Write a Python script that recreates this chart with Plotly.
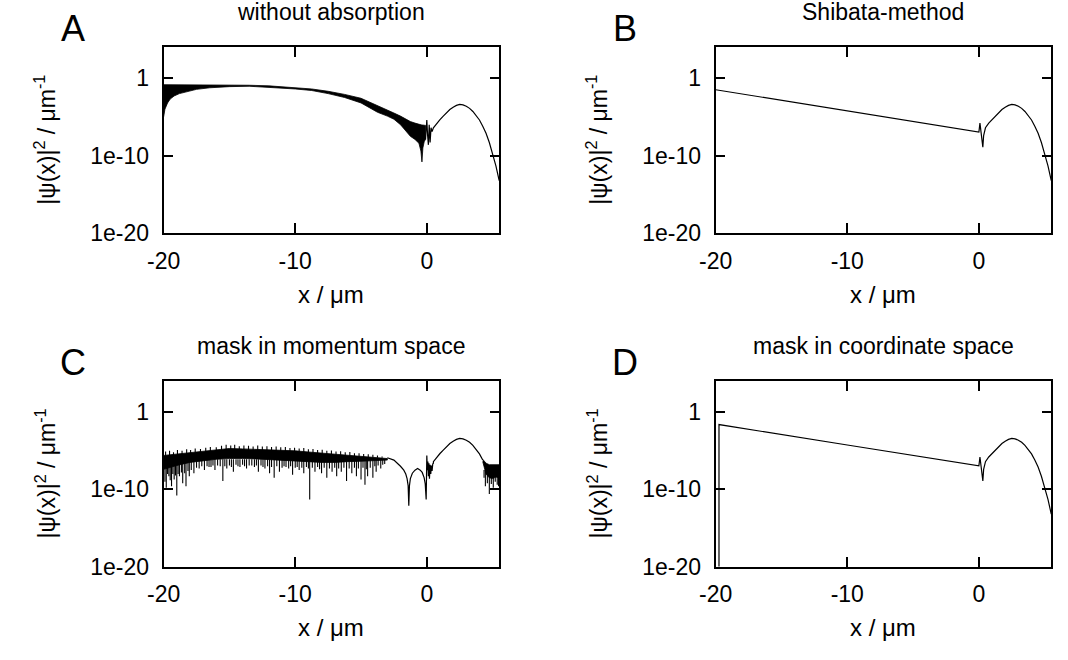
import numpy as np
import plotly.graph_objects as go

# ---------------- data (log10 of |psi|^2) ----------------
# shared smooth lobe right of the barrier (x >= 0.5)
right_x = [0.5, 0.75, 1.0, 1.25, 1.5, 1.75, 2.0, 2.25, 2.5, 2.75, 3.0, 3.25, 3.5, 3.75,
           4.0, 4.25, 4.5, 4.75, 5.0, 5.25, 5.5]
right_log = [-6.4, -5.8, -5.35, -4.9, -4.45, -4.05, -3.75, -3.52, -3.4, -3.45, -3.62, -3.9,
             -4.3, -4.8, -5.4, -6.2, -7.1, -8.3, -9.7, -11.3, -13.2]

# panel A: without absorption (dense oscillation band + spikes at 0)
a_band_x = [-20.0, -19.9, -19.7, -19.5, -19.2, -18.8, -18.2, -17.5, -16.5, -15.0, -13.5,
            -12.0, -10.0, -8.75, -7.5, -6.25, -5.0, -3.75, -3.0, -2.5, -2.0, -1.25,
            -0.9, -0.6, -0.45, -0.37, -0.3, -0.2, -0.1]
a_band_upper = [-0.85, -0.85, -0.85, -0.85, -0.85, -0.85, -0.85, -0.85, -0.85, -0.88, -0.92,
                -1.0, -1.2, -1.4, -1.7, -2.1, -2.6, -3.5, -4.1, -4.5, -4.9, -5.6,
                -5.8, -6.0, -6.0, -6.05, -6.05, -6.1, -6.1]
a_band_lower = [-5.0, -4.0, -3.2, -2.7, -2.3, -2.0, -1.7, -1.45, -1.25, -1.1, -1.05,
                -1.15, -1.4, -1.6, -2.0, -2.5, -3.2, -4.4, -4.9, -5.3, -6.0, -7.5,
                -7.9, -8.4, -9.4, -10.8, -9.0, -8.2, -7.9]
a_zero_x = [-0.1, 0.0, 0.06, 0.12, 0.18, 0.25, 0.32, 0.4, 0.5]
a_zero_log = [-7.9, -5.4, -7.4, -8.6, -6.0, -8.3, -6.4, -6.9, -6.4]

# panel B: Shibata-method
b_left_x = [-20.0, -10.0, 0.0]
b_left_log = [-1.5, -4.2, -6.95]
zero_x = [0.0, 0.08, 0.2, 0.3, 0.36, 0.42, 0.5]
zero_log = [-6.95, -5.8, -7.4, -8.9, -7.4, -6.8, -6.4]

# panel C: mask in momentum space (noisy band drawn as core band + spikes)
c_band_x = [-20.0, -19.0, -18.0, -17.0, -16.0, -15.0, -14.0, -13.0, -12.0, -11.0, -10.0,
            -9.0, -8.0, -7.0, -6.0, -5.0, -4.0, -3.0]
c_band_upper = [-5.6, -5.4, -5.25, -5.05, -4.85, -4.7, -4.75, -4.8, -4.85, -4.9, -5.0,
                -5.15, -5.3, -5.45, -5.6, -5.7, -5.85, -6.0]
c_band_lower = [-7.4, -6.9, -6.5, -6.3, -6.1, -6.0, -6.0, -6.05, -6.1, -6.2, -6.3,
                -6.4, -6.5, -6.5, -6.4, -6.35, -6.3, -6.2]
c_spike_from = -6.1
c_spike_x = [-19.9, -19.8, -19.7, -19.6, -19.5, -19.4, -19.3, -19.2, -19.1, -19.0, -18.9,
             -18.8, -18.65, -18.55, -18.4, -18.3, -18.15, -18.05, -17.9, -17.7, -17.5,
             -17.3, -17.1, -16.9, -16.7, -16.55, -16.4, -16.25, -16.1, -15.9, -15.7, -15.5,
             -15.35, -15.2, -15.0, -14.85, -14.7, -14.5, -14.35, -14.2, -14.0, -13.85,
             -13.7, -13.5, -13.3, -13.1, -12.95, -12.8, -12.6, -12.45, -12.3, -12.1, -11.95,
             -11.8, -11.6, -11.4, -11.2, -11.0, -10.85, -10.7, -10.5, -10.35, -10.2, -10.0,
             -9.85, -9.7, -9.5, -9.35, -9.15, -9.0, -8.9, -8.7, -8.5, -8.3, -8.15, -8.0,
             -7.8, -7.6, -7.4, -7.2, -7.0, -6.85, -6.7, -6.5, -6.3, -6.1, -5.9, -5.7, -5.5,
             -5.35, -5.2, -5.0, -4.85, -4.7, -4.6, -4.5, -4.3, -4.1, -3.95, -3.85, -3.7,
             -3.5, -3.35, -3.2]
c_spike_log = [-9.0, -9.8, -8.0, -8.3, -8.8, -9.6, -8.0, -8.7, -8.2, -10.8, -8.0,
               -8.3, -7.8, -9.2, -7.9, -9.6, -7.6, -8.3, -7.5, -7.9, -7.2,
               -7.3, -7.0, -7.5, -7.0, -7.1, -7.1, -6.9, -7.5, -6.9, -7.0, -8.9,
               -7.0, -7.3, -6.9, -7.1, -7.7, -6.8, -7.0, -7.1, -6.8, -7.0,
               -7.3, -6.9, -6.9, -7.1, -6.9, -7.7, -6.9, -7.1, -7.3, -7.0, -7.9,
               -7.1, -8.5, -7.0, -7.7, -7.2, -7.0, -7.1, -7.3, -7.0, -8.1, -7.2,
               -7.1, -7.5, -7.2, -7.9, -7.1, -7.3, -11.3, -7.2, -7.7, -7.1, -7.4, -7.9,
               -7.2, -8.5, -7.3, -7.7, -7.2, -8.3, -7.3, -7.7, -7.2, -8.9, -7.3, -7.9, -7.2,
               -8.3, -7.3, -8.7, -7.2, -9.4, -7.4, -8.3, -7.2, -8.5, -7.0, -7.7, -6.9,
               -7.3, -6.8, -6.7]
c_up_from = -5.9
c_up_x = [-19.85, -19.55, -19.25, -18.95, -18.6, -18.25, -17.95, -17.6, -17.2, -16.8,
          -16.45, -16.0, -15.6, -15.25, -14.9, -14.6, -14.25, -13.9, -13.55, -13.2, -12.85,
          -12.5, -12.15, -11.8, -11.45, -11.1, -10.75, -10.4, -10.05, -9.7, -9.35, -9.0,
          -8.65, -8.3, -7.95, -7.6, -7.25, -6.9, -6.55, -6.2, -5.85, -5.5, -5.15, -4.8,
          -4.45, -4.1, -3.75, -3.4]
c_up_log = [-5.1, -5.0, -5.2, -4.9, -5.0, -4.8, -4.9, -4.7, -4.75, -4.6,
            -4.5, -4.55, -4.35, -4.2, -4.3, -4.2, -4.4, -4.3, -4.35, -4.45, -4.3,
            -4.45, -4.4, -4.5, -4.45, -4.55, -4.5, -4.65, -4.6, -4.7, -4.65, -4.8,
            -4.75, -4.9, -4.85, -5.0, -4.95, -5.1, -5.05, -5.2, -5.15, -5.3, -5.3, -5.4,
            -5.45, -5.5, -5.6, -5.75]
c_mid_x = [-3.0, -2.5, -2.0, -1.75, -1.6, -1.5, -1.42, -1.37, -1.32, -1.25, -1.1, -0.9,
           -0.7, -0.5, -0.35, -0.2, -0.12, -0.05, 0.0, 0.04, 0.08, 0.12, 0.16, 0.2, 0.25,
           0.3, 0.35, 0.4, 0.45, 0.5]
c_mid_log = [-5.9, -6.2, -7.0, -7.5, -8.0, -8.6, -9.5, -12.1, -9.5, -8.6, -7.9, -7.5,
             -7.3, -7.5, -7.8, -8.5, -9.3, -11.3, -5.6, -7.5, -6.4, -8.3, -6.6, -8.6, -6.8,
             -8.0, -6.9, -7.6, -6.7, -6.6]
c_lobe_end = 4.25
c_tail_x = [4.25, 4.5, 4.75, 5.0, 5.25, 5.5]
c_tail_upper = [-6.1, -6.6, -6.8, -6.8, -6.8, -6.8]
c_tail_lower = [-6.4, -8.0, -8.5, -8.6, -8.4, -8.5]
c_tail_spike_from = -7.5
c_tail_spike_x = [4.35, 4.45, 4.6, 4.75, 4.9, 5.05, 5.2, 5.35, 5.45]
c_tail_spike_log = [-8.5, -9.6, -9.2, -10.6, -9.3, -9.8, -9.0, -9.4, -9.6]

# panel D: mask in coordinate space
d_left_x = [-19.75, -19.75, -10.0, 0.0]
d_left_log = [-21.0, -1.6, -4.25, -6.95]

titles = ["without absorption", "Shibata-method", "mask in momentum space",
          "mask in coordinate space"]
letters = ["A", "B", "C", "D"]
x_ticks = [-20, -10, 0]
x_ticktext = ["-20", "-10", "0"]
y_ticks = [1e-20, 1e-10, 1]
y_ticktext = ["1e-20", "1e-10", "1"]
x_title = "x / μm"
y_title = "|ψ(x)|<sup>2</sup> / μm<sup>-1</sup>"

# ---------------- layout geometry ----------------
W, H = 1068, 660
FONT = "Liberation Sans, Arial, Helvetica, sans-serif"
panels = [(149, 48, 490, 238), (710, 48, 1051, 238), (149, 389, 490, 578), (710, 389, 1051, 578)]
LW = 1.2
FS = 23


def p(v):
    return [10.0 ** t for t in v]


def band(xs, up, lo):
    return list(xs) + list(xs)[::-1], p(up) + p(lo)[::-1]


def spikes(xs, ends, start):
    X, Y = [], []
    for x, d in zip(xs, ends):
        X += [x, x, None]
        Y += [10.0 ** start, 10.0 ** d, None]
    return X, Y


fig = go.Figure()


def add(i, x, y, **kw):
    sfx = "" if i == 0 else str(i + 1)
    fig.add_trace(go.Scatter(x=x, y=y, mode="lines", xaxis="x" + sfx, yaxis="y" + sfx,
                             line=dict(color="black", width=kw.pop("width", LW)),
                             showlegend=False, hoverinfo="skip", **kw))


# A
bx, by = band(a_band_x, a_band_upper, a_band_lower)
add(0, bx, by, fill="toself", fillcolor="black", width=0.8)
add(0, a_zero_x + right_x, p(a_zero_log + right_log))
# B
add(1, b_left_x + zero_x + right_x, p(b_left_log + zero_log + right_log))
# C
bx, by = band(c_band_x, c_band_upper, c_band_lower)
add(2, bx, by, fill="toself", fillcolor="black", width=0.8)
sx, sy = spikes(c_spike_x, c_spike_log, c_spike_from)
add(2, sx, sy, width=1.1)
sx, sy = spikes(c_up_x, c_up_log, c_up_from)
add(2, sx, sy, width=1.1)
k = right_x.index(c_lobe_end) + 1
add(2, c_mid_x + right_x[:k], p(c_mid_log + right_log[:k]))
bx, by = band(c_tail_x, c_tail_upper, c_tail_lower)
add(2, bx, by, fill="toself", fillcolor="black", width=0.8)
sx, sy = spikes(c_tail_spike_x, c_tail_spike_log, c_tail_spike_from)
add(2, sx, sy, width=1.1)
# D
add(3, d_left_x + zero_x + right_x, p(d_left_log + zero_log + right_log))

layout = dict(width=W, height=H, margin=dict(l=0, r=0, t=0, b=0),
              paper_bgcolor="white", plot_bgcolor="white",
              font=dict(family=FONT, size=FS, color="black"))
annotations = []
for i, (x0, y0, x1, y1) in enumerate(panels):
    sfx = "" if i == 0 else str(i + 1)
    ax = dict(domain=[x0 / W, x1 / W], range=[-20, 5.5], tickvals=x_ticks,
              ticktext=x_ticktext,
              ticks="inside", ticklen=10, tickwidth=1.5, tickcolor="black",
              showline=True, linewidth=2, linecolor="black", mirror="ticks",
              showgrid=False, zeroline=False, anchor="y" + sfx,
              tickfont=dict(family=FONT, size=FS), ticklabelstandoff=6)
    ay = dict(domain=[1 - y1 / H, 1 - y0 / H], type="log", range=[-20, 4],
              tickvals=y_ticks, ticktext=y_ticktext,
              ticks="inside", ticklen=9, tickwidth=1.5, tickcolor="black",
              showline=True, linewidth=2, linecolor="black", mirror="ticks",
              showgrid=False, zeroline=False, anchor="x" + sfx,
              tickfont=dict(family=FONT, size=FS), ticklabelstandoff=8)
    layout["xaxis" + sfx] = ax
    layout["yaxis" + sfx] = ay
    cx = (x0 + x1) / 2
    cy = (y0 + y1) / 2
    annotations.append(dict(text=titles[i], x=cx / W, y=1 - (y0 - 36) / H, xref="paper",
                            yref="paper", xanchor="center", yanchor="middle",
                            showarrow=False, font=dict(family=FONT, size=FS)))
    annotations.append(dict(text=letters[i], x=(x0 - 92) / W, y=1 - (y0 - 19) / H,
                            xref="paper", yref="paper", xanchor="center", yanchor="middle",
                            showarrow=False, font=dict(family=FONT, size=36)))
    annotations.append(dict(text=x_title, x=cx / W, y=1 - (y1 + 62) / H, xref="paper",
                            yref="paper", xanchor="center", yanchor="middle",
                            showarrow=False, font=dict(family=FONT, size=FS + 1)))
    annotations.append(dict(text=y_title, x=(x0 - 120) / W, y=1 - cy / H, xref="paper",
                            yref="paper", xanchor="center", yanchor="middle", textangle=-90,
                            showarrow=False, font=dict(family=FONT, size=FS)))
layout["annotations"] = annotations
fig.update_layout(**layout)
fig.write_html("out.html")
